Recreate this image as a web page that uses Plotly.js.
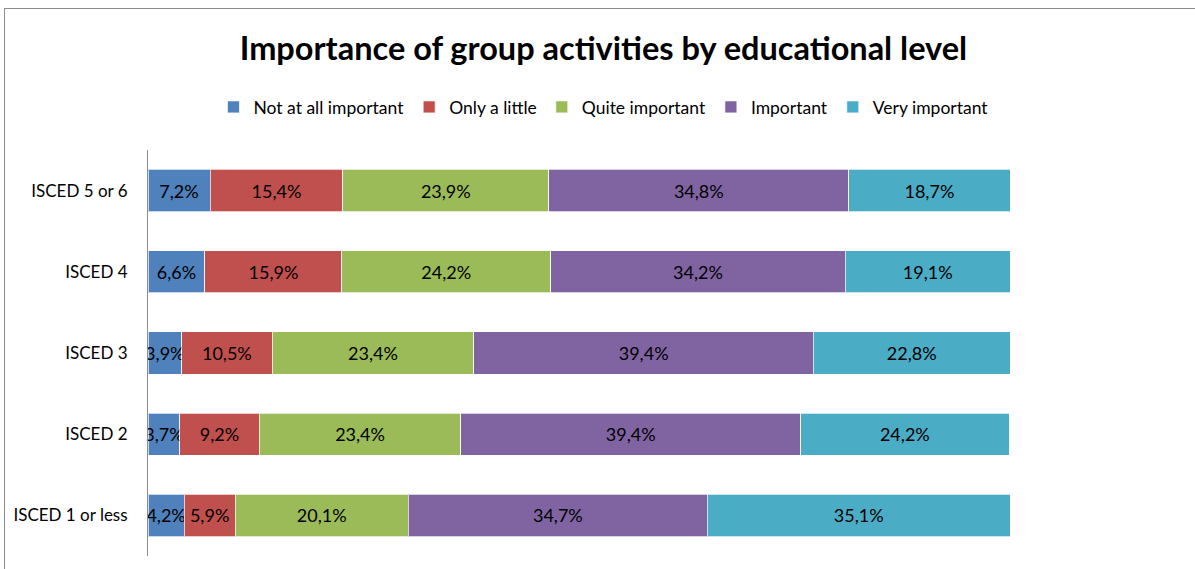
<!DOCTYPE html>
<html><head><meta charset="utf-8">
<script src="https://cdn.plot.ly/plotly-3.0.1.min.js"></script>
<style>
html,body{margin:0;padding:0;background:#fff;}
#wrap{position:relative;width:1195px;height:569px;}
#chart{width:1195px;height:569px;}
#frame{position:absolute;left:4px;top:8px;right:0;bottom:0;border-left:1px solid #8c8c8c;border-top:1px solid #8c8c8c;pointer-events:none;}
</style></head>
<body>
<div id="wrap"><div id="chart"></div><div id="frame"></div></div>
<script>
const categories = ["ISCED 5 or 6", "ISCED 4", "ISCED 3", "ISCED 2", "ISCED 1 or less"];
const seriesNames = ["Not at all important", "Only a little", "Quite important", "Important", "Very important"];
const notAtAll = [7.2, 6.6, 3.9, 3.7, 4.2];
const onlyLittle = [15.4, 15.9, 10.5, 9.2, 5.9];
const quite = [23.9, 24.2, 23.4, 23.4, 20.1];
const important = [34.8, 34.2, 39.4, 39.4, 34.7];
const very = [18.7, 19.1, 22.8, 24.2, 35.1];
const colors = ["#4F81BD", "#C0504D", "#9BBB59", "#8064A2", "#4BACC6"];
const seriesValues = [notAtAll, onlyLittle, quite, important, very];

const font = "Lato, 'Open Sans', sans-serif";
const traces = seriesValues.map((vals, i) => ({
  type: "bar",
  orientation: "h",
  name: seriesNames[i],
  y: categories,
  x: vals,
  marker: {color: colors[i], line: {color: "rgba(255,255,255,0.7)", width: 1}},
  texttemplate: "%{x:.1f}%",
  textposition: "inside",
  textangle: 0,
  insidetextanchor: "middle",
  constraintext: "none",
  textfont: {color: "#000", size: 18, family: font},
  hoverinfo: "skip"
}));

const layout = {
  width: 1195, height: 569,
  barmode: "stack",
  bargap: 0.48,
  separators: ",.",
  paper_bgcolor: "#fff", plot_bgcolor: "#fff",
  margin: {l: 148, r: 185, t: 150, b: 13},
  font: {family: font, color: "#000"},
  title: {text: "<b>Importance of group activities by educational level</b>",
          font: {size: 32.5, family: font, color: "#000"},
          x: 0.505, xanchor: "center", xref: "container",
          y: 1 - 49/569, yanchor: "middle", yref: "container"},
  showlegend: true,
  legend: {orientation: "h", xref: "container", yref: "container",
           x: 0.505, xanchor: "center", y: 1 - 107/569, yanchor: "middle",
           font: {size: 17.5, family: font}, traceorder: "normal",
           itemwidth: 30, itemclick: false},
  uniformtext: {mode: "show", minsize: 18},
  xaxis: {range: [0, 100], showgrid: false, showticklabels: false, zeroline: false, showline: false, ticks: "", fixedrange: true},
  yaxis: {autorange: "reversed", type: "category", showgrid: false, showline: true, linecolor: "#8c8c8c", linewidth: 1,
          ticks: "", ticklabelstandoff: 16, tickfont: {size: 17, family: font}, fixedrange: true}
};

Plotly.newPlot("chart", traces, layout, {displayModeBar: false, staticPlot: true});
</script>
</body></html>
